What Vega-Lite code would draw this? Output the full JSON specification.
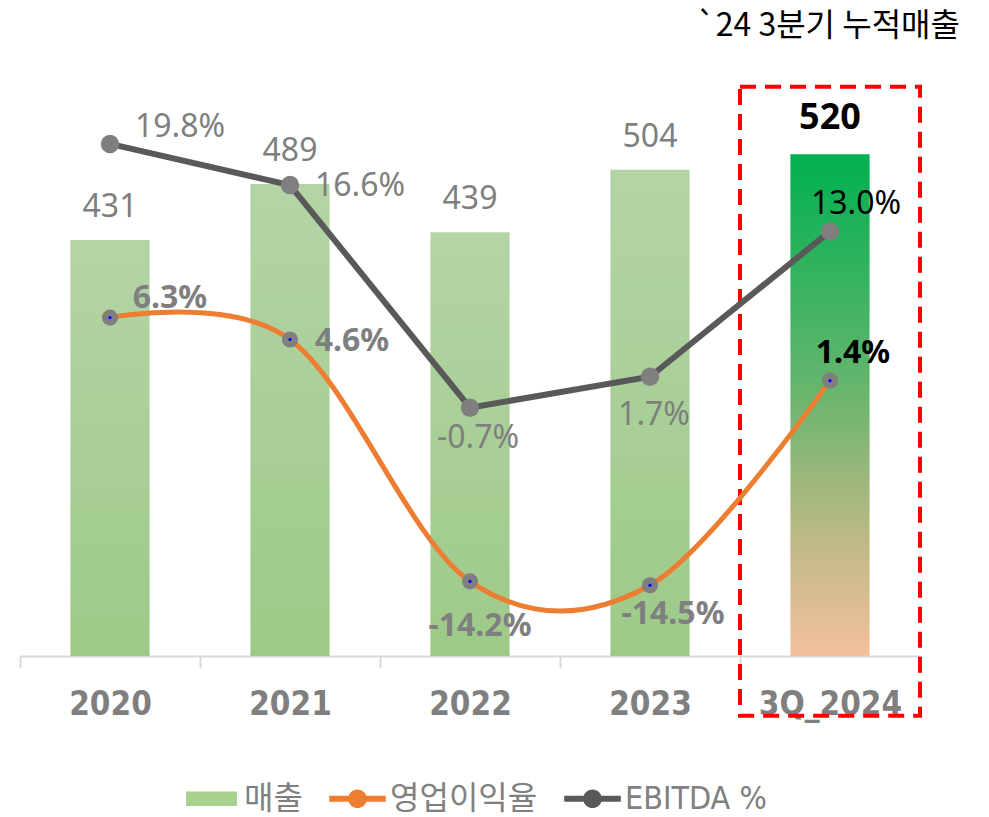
{
  "$schema": "https://vega.github.io/schema/vega-lite/v6.json",
  "width": 900,
  "height": 579,
  "autosize": {"type": "none"},
  "padding": {"left": 20, "top": 77, "right": 69, "bottom": 161},
  "background": "white",
  "config": {"view": {"stroke": null}, "font": "Noto Sans"},
  "title": {"text": "`24 3분기 누적매출", "anchor": "end", "frame": "group", "dx": 40, "offset": 9, "baseline": "alphabetic", "fontSize": 32, "fontWeight": "normal", "color": "#000000", "font": "Noto Sans CJK KR"},
  "data": {"values": [
    {"year": "2020", "sales": 431, "op": 6.3, "ebitda": 19.8, "opLabel": "6.3%", "ebitdaLabel": "19.8%"},
    {"year": "2021", "sales": 489, "op": 4.6, "ebitda": 16.6, "opLabel": "4.6%", "ebitdaLabel": "16.6%"},
    {"year": "2022", "sales": 439, "op": -14.2, "ebitda": -0.7, "opLabel": "-14.2%", "ebitdaLabel": "-0.7%"},
    {"year": "2023", "sales": 504, "op": -14.5, "ebitda": 1.7, "opLabel": "-14.5%", "ebitdaLabel": "1.7%"},
    {"year": "3Q_2024", "sales": 520, "op": 1.4, "ebitda": 13.0, "opLabel": "1.4%", "ebitdaLabel": "13.0%"}
  ]},
  "encoding": {
    "x": {"field": "year", "type": "nominal", "sort": null,
      "scale": {"type": "band", "domain": ["2020", "2021", "2022", "2023", "3Q_2024"], "paddingInner": 0, "paddingOuter": 0},
      "axis": {"title": null, "labelAngle": 0, "labelFont": "DejaVu Sans Condensed, Liberation Sans, sans-serif", "labelFontWeight": "bold", "labelFontSize": 33, "labelColor": "#7f7f7f", "labelPadding": 20, "domainColor": "#d9d9d9", "domainWidth": 2, "tickColor": "#d9d9d9", "tickWidth": 2, "tickSize": 12, "tickBand": "extent", "grid": false}}
  },
  "layer": [
    {
      "transform": [{"filter": "datum.year != '3Q_2024'"}],
      "mark": {"type": "bar", "width": {"band": 0.44}, "fill": {"gradient": "linear", "x1": 0, "y1": 0, "x2": 0, "y2": 1, "stops": [{"offset": 0, "color": "#b4d4a6"}, {"offset": 1, "color": "#9dca88"}]}},
      "encoding": {"y": {"field": "sales", "type": "quantitative", "scale": {"domain": [0, 600], "nice": false}, "axis": null}}
    },
    {
      "transform": [{"filter": "datum.year == '3Q_2024'"}],
      "mark": {"type": "bar", "width": {"band": 0.44}, "fill": {"gradient": "linear", "x1": 0, "y1": 0, "x2": 0, "y2": 1, "stops": [{"offset": 0, "color": "#00b050"}, {"offset": 0.45, "color": "#62b56c"}, {"offset": 0.75, "color": "#b9b985"}, {"offset": 1, "color": "#f5c09d"}]}},
      "encoding": {"y": {"field": "sales", "type": "quantitative", "scale": {"domain": [0, 600], "nice": false}, "axis": null}}
    },
    {
      "transform": [{"filter": "datum.year != '3Q_2024'"}],
      "mark": {"type": "text", "dy": -33, "fontSize": 32, "color": "#7f7f7f", "baseline": "middle", "align": "center"},
      "encoding": {"y": {"field": "sales", "type": "quantitative", "scale": {"domain": [0, 600], "nice": false}, "axis": null}, "text": {"field": "sales", "type": "quantitative"}}
    },
    {
      "transform": [{"filter": "datum.year == '3Q_2024'"}],
      "mark": {"type": "text", "dy": -36, "fontSize": 36, "fontWeight": "bold", "color": "#000000", "baseline": "middle", "align": "center"},
      "encoding": {"y": {"field": "sales", "type": "quantitative", "scale": {"domain": [0, 600], "nice": false}, "axis": null}, "text": {"field": "sales", "type": "quantitative"}}
    },
    {
      "transform": [{"filter": "datum.year == '3Q_2024'"}],
      "mark": {"type": "rect", "fill": "white", "fillOpacity": 0, "stroke": "#ff0000", "strokeWidth": 4, "strokeDash": [16, 9]},
      "encoding": {"y": {"datum": 590, "type": "quantitative", "scale": {"domain": [0, 600], "nice": false}, "axis": null}, "y2": {"datum": -62}}
    },
    {
      "mark": {"type": "line", "interpolate": "cardinal", "strokeWidth": 5},
      "encoding": {
        "y": {"field": "op", "type": "quantitative", "scale": {"domain": [-20, 25], "nice": false, "zero": false}, "axis": null},
        "color": {"datum": "영업이익율", "type": "nominal",
          "scale": {"domain": ["매출", "영업이익율", "EBITDA %"], "range": ["#a9d18e", "#ed7d31", "#595959"]},
          "legend": {"orient": "none", "legendX": 163, "legendY": 693, "direction": "horizontal", "title": null,
            "labelFont": "DejaVu Sans Condensed, Noto Sans CJK KR, sans-serif", "labelFontSize": 32, "labelColor": "#808080", "labelOffset": 4, "labelLimit": 400, "columnPadding": 26, "symbolSize": 3200,
            "encode": {"symbols": {"update": {
              "shape": {"signal": "datum.value === '매출' ? 'M-0.9,-0.26H0.9V0.26H-0.9Z' : 'M-1,-0.11H1V0.11H-1Z M0.33,0A0.33,0.33 0 1,1 -0.33,0A0.33,0.33 0 1,1 0.33,0Z'"},
              "fill": {"scale": "color", "field": "value"},
              "stroke": {"value": "transparent"},
              "strokeWidth": {"value": 0},
              "opacity": {"value": 1},
              "fillOpacity": {"value": 1}
            }}}}}
      }
    },
    {
      "mark": {"type": "point", "filled": true, "size": 260, "color": "#7f7f7f", "opacity": 1},
      "encoding": {"y": {"field": "op", "type": "quantitative", "scale": {"domain": [-20, 25], "nice": false, "zero": false}, "axis": null}}
    },
    {
      "mark": {"type": "point", "filled": true, "size": 10, "color": "#0000ff", "opacity": 1},
      "encoding": {"y": {"field": "op", "type": "quantitative", "scale": {"domain": [-20, 25], "nice": false, "zero": false}, "axis": null}}
    },
    {
      "mark": {"type": "line", "strokeWidth": 6},
      "encoding": {
        "y": {"field": "ebitda", "type": "quantitative", "scale": {"domain": [-20, 25], "nice": false, "zero": false}, "axis": null},
        "color": {"datum": "EBITDA %", "type": "nominal"}
      }
    },
    {
      "mark": {"type": "point", "filled": true, "size": 340, "color": "#7f7f7f", "opacity": 1},
      "encoding": {"y": {"field": "ebitda", "type": "quantitative", "scale": {"domain": [-20, 25], "nice": false, "zero": false}, "axis": null}}
    },
    {"transform": [{"filter": "datum.year == '2020'"}], "mark": {"type": "text", "dx": 70, "dy": -17, "fontSize": 32, "color": "#7f7f7f", "baseline": "middle"},
      "encoding": {"y": {"field": "ebitda", "type": "quantitative", "scale": {"domain": [-20, 25], "nice": false, "zero": false}, "axis": null}, "text": {"field": "ebitdaLabel"}}},
    {"transform": [{"filter": "datum.year == '2021'"}], "mark": {"type": "text", "dx": 70, "dy": 1, "fontSize": 32, "color": "#7f7f7f", "baseline": "middle"},
      "encoding": {"y": {"field": "ebitda", "type": "quantitative", "scale": {"domain": [-20, 25], "nice": false, "zero": false}, "axis": null}, "text": {"field": "ebitdaLabel"}}},
    {"transform": [{"filter": "datum.year == '2022'"}], "mark": {"type": "text", "dx": 8, "dy": 30, "fontSize": 32, "color": "#7f7f7f", "baseline": "middle"},
      "encoding": {"y": {"field": "ebitda", "type": "quantitative", "scale": {"domain": [-20, 25], "nice": false, "zero": false}, "axis": null}, "text": {"field": "ebitdaLabel"}}},
    {"transform": [{"filter": "datum.year == '2023'"}], "mark": {"type": "text", "dx": 4, "dy": 38, "fontSize": 32, "color": "#7f7f7f", "baseline": "middle"},
      "encoding": {"y": {"field": "ebitda", "type": "quantitative", "scale": {"domain": [-20, 25], "nice": false, "zero": false}, "axis": null}, "text": {"field": "ebitdaLabel"}}},
    {"transform": [{"filter": "datum.year == '3Q_2024'"}], "mark": {"type": "text", "dx": 26, "dy": -27, "fontSize": 32, "color": "#000000", "baseline": "middle"},
      "encoding": {"y": {"field": "ebitda", "type": "quantitative", "scale": {"domain": [-20, 25], "nice": false, "zero": false}, "axis": null}, "text": {"field": "ebitdaLabel"}}},
    {"transform": [{"filter": "datum.year == '2020'"}], "mark": {"type": "text", "dx": 60, "dy": -20, "fontSize": 32, "fontWeight": "bold", "color": "#7f7f7f", "baseline": "middle"},
      "encoding": {"y": {"field": "op", "type": "quantitative", "scale": {"domain": [-20, 25], "nice": false, "zero": false}, "axis": null}, "text": {"field": "opLabel"}}},
    {"transform": [{"filter": "datum.year == '2021'"}], "mark": {"type": "text", "dx": 62, "dy": 2, "fontSize": 32, "fontWeight": "bold", "color": "#7f7f7f", "baseline": "middle"},
      "encoding": {"y": {"field": "op", "type": "quantitative", "scale": {"domain": [-20, 25], "nice": false, "zero": false}, "axis": null}, "text": {"field": "opLabel"}}},
    {"transform": [{"filter": "datum.year == '2022'"}], "mark": {"type": "text", "dx": 10, "dy": 45, "fontSize": 32, "fontWeight": "bold", "color": "#7f7f7f", "baseline": "middle"},
      "encoding": {"y": {"field": "op", "type": "quantitative", "scale": {"domain": [-20, 25], "nice": false, "zero": false}, "axis": null}, "text": {"field": "opLabel"}}},
    {"transform": [{"filter": "datum.year == '2023'"}], "mark": {"type": "text", "dx": 23, "dy": 29, "fontSize": 32, "fontWeight": "bold", "color": "#7f7f7f", "baseline": "middle"},
      "encoding": {"y": {"field": "op", "type": "quantitative", "scale": {"domain": [-20, 25], "nice": false, "zero": false}, "axis": null}, "text": {"field": "opLabel"}}},
    {"transform": [{"filter": "datum.year == '3Q_2024'"}], "mark": {"type": "text", "dx": 23, "dy": -28, "fontSize": 32, "fontWeight": "bold", "color": "#000000", "baseline": "middle"},
      "encoding": {"y": {"field": "op", "type": "quantitative", "scale": {"domain": [-20, 25], "nice": false, "zero": false}, "axis": null}, "text": {"field": "opLabel"}}}
  ],
  "resolve": {"scale": {"y": "independent"}}
}
